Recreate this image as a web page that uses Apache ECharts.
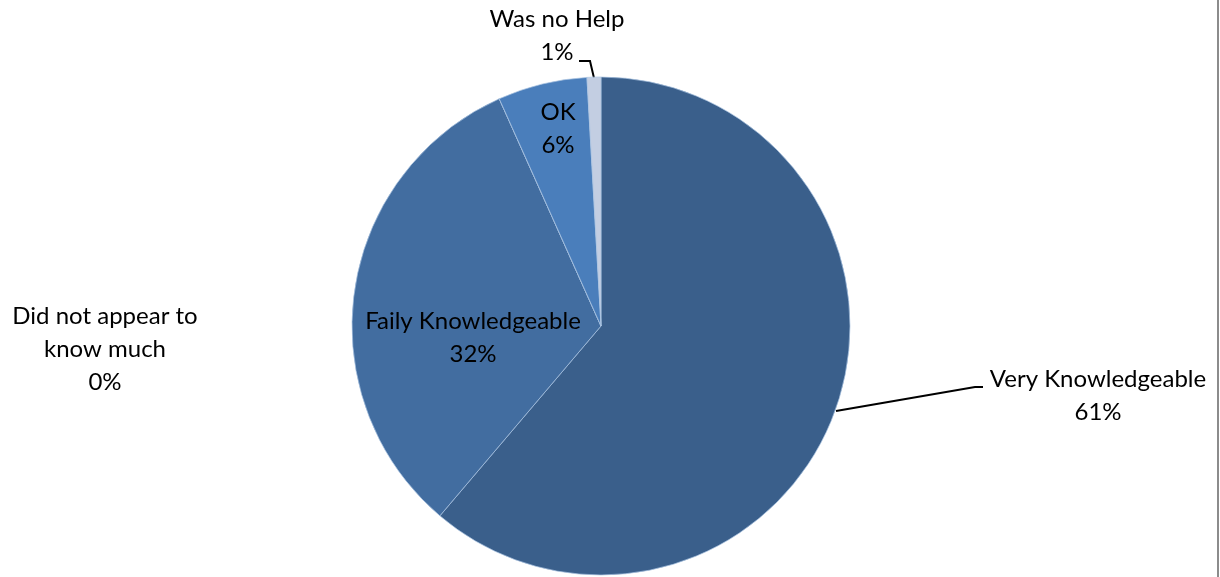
<!DOCTYPE html>
<html>
<head>
<meta charset="utf-8">
<script src="https://cdn.jsdelivr.net/npm/echarts@6/dist/echarts.min.js"></script>
<style>
html,body{margin:0;padding:0;background:#fff;}
#chart{width:1220px;height:577px;}
</style>
</head>
<body>
<div id="chart"></div>
<script>
const categories = ['Very Knowledgeable', 'Faily Knowledgeable', 'Did not appear to\nknow much', 'OK', 'Was no Help'];
const values = [61.2, 32.1, 0, 5.8, 0.9];
const percentLabels = ['61%', '32%', '0%', '6%', '1%'];
const colors = ['#3A5F8B', '#426DA0', '#426DA0', '#4A7EBB', '#C3CEE2'];

const labelPos = [
  {x: 1098, y: 396, line: [[836, 411], [975, 387], [983, 387]]},
  {x: 473, y: 338},
  {x: 105, y: 349},
  {x: 558, y: 129},
  {x: 557, y: 36, line: [[594, 78], [590, 61], [579, 61]]}
];
const outsideLine = [true, false, false, false, true];

const chart = echarts.init(document.getElementById('chart'));
chart.setOption({
  animation: false,
  backgroundColor: '#fff',
  graphic: [{
    type: 'rect', shape: {x: 1217, y: 0, width: 2, height: 577},
    style: {fill: '#8c8c8c'}, silent: true
  }],
  series: [{
    type: 'pie',
    center: [601, 326],
    radius: 249,
    startAngle: 90,
    clockwise: true,
    avoidLabelOverlap: false,
    itemStyle: {borderColor: 'rgba(170,195,225,0.7)', borderWidth: 1},
    label: {
      show: true,
      position: 'outside',
      fontFamily: 'Lato',
      fontSize: 24,
      lineHeight: 33,
      color: '#000',
      align: 'center',
      formatter: p => p.name + '\n' + percentLabels[p.dataIndex]
    },
    labelLine: {show: true, lineStyle: {color: '#000', width: 2}, smooth: false},
    labelLayout: function (params) {
      const lp = labelPos[params.dataIndex];
      const r = {x: lp.x, y: lp.y, align: 'center', verticalAlign: 'middle'};
      if (lp.line) r.labelLinePoints = lp.line;
      return r;
    },
    data: categories.map((c, i) => ({
      name: c,
      value: values[i],
      itemStyle: {color: colors[i]},
      labelLine: {show: outsideLine[i]}
    }))
  }]
});
</script>
</body>
</html>
